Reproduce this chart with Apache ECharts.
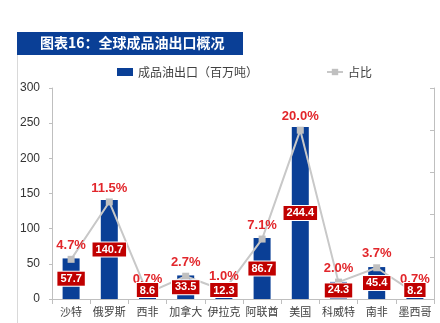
<!DOCTYPE html>
<html><head><meta charset="utf-8">
<script src="https://cdn.jsdelivr.net/npm/echarts@6/dist/echarts.min.js"></script>
<style>html,body{margin:0;padding:0;background:#fff}#c{width:440px;height:323px}</style>
</head><body><div id="c"></div>
<script>
const categories = ['沙特','俄罗斯','西非','加拿大','伊拉克','阿联酋','美国','科威特','南非','墨西哥'];
const exportValues = [57.7, 140.7, 8.6, 33.5, 12.3, 86.7, 244.4, 24.3, 45.4, 8.2];
const sharePct = [4.7, 11.5, 0.7, 2.7, 1.0, 7.1, 20.0, 2.0, 3.7, 0.7];
const leftTicks = [0, 50, 100, 150, 200, 250, 300];
const titleText = '图表16：全球成品油出口概况';
const barName = '成品油出口（百万吨）';
const lineName = '占比';

const chart = echarts.init(document.getElementById('c'), null, {renderer:'canvas'});
const cjk = '"Noto Sans CJK SC", sans-serif';
const num = '"Liberation Sans", Arial, sans-serif';

const labelBarData = exportValues.map(v => ({
  value: v,
  label: v < 15 ? {position: 'insideBottom', distance: 2} : {}
}));

chart.setOption({
  animation: false,
  graphic: [
    {type:'rect', shape:{x:17, y:32, width:226, height:23}, style:{fill:'#0a3f96'}},
    {type:'text', left:40, top:36, style:{text:titleText, fill:'#fff', font:'bold 14px ' + cjk}},
    {type:'line', shape:{x1:17.5, y1:55, x2:17.5, y2:323}, style:{stroke:'#d9d9d9', lineWidth:1}}
  ],
  legend: {
    left: 117, top: 66, padding: 0,
    itemWidth: 16, itemHeight: 8, itemGap: 68,
    textStyle: {fontSize: 12, color: '#404040', fontFamily: cjk},
    data: [{name: barName, icon: 'rect'}, {name: lineName}]
  },
  grid: {left: 52, right: 6, top: 88, bottom: 24, containLabel: false},
  xAxis: {
    type: 'category', data: categories,
    axisLine: {lineStyle: {color: '#bfbfbf'}},
    axisTick: {show: true, length: 5, lineStyle: {color: '#bfbfbf'}},
    axisLabel: {interval: 0, fontSize: 11, color: '#404040', fontFamily: cjk, margin: 7}
  },
  yAxis: [
    {
      type: 'value', min: leftTicks[0], max: leftTicks[leftTicks.length-1], interval: 50,
      axisLine: {show: true, lineStyle: {color: '#bfbfbf'}},
      axisTick: {show: true, length: 3, lineStyle: {color: '#bfbfbf'}},
      splitLine: {show: false},
      axisLabel: {fontSize: 12, color: '#333', fontFamily: num, margin: 12}
    },
    {
      type: 'value', min: 0, max: 25, interval: 5, position: 'right',
      axisLine: {show: true, lineStyle: {color: '#bfbfbf'}},
      axisTick: {show: true, inside: true, length: 4, lineStyle: {color: '#bfbfbf'}},
      splitLine: {show: false},
      axisLabel: {show: false}
    }
  ],
  series: [
    {
      name: barName, type: 'bar', data: exportValues, barWidth: 17,
      itemStyle: {color: '#0a3f96'},
      z: 2
    },
    {
      name: lineName, type: 'line', yAxisIndex: 1, data: sharePct,
      symbol: 'rect', symbolSize: 7,
      lineStyle: {color: '#c8c8c8', width: 2},
      itemStyle: {color: '#c0c0c0'},
      label: {
        show: true, position: 'top', distance: 4,
        formatter: p => p.value.toFixed(1) + '%',
        color: '#e2262b', fontWeight: 'bold', fontSize: 13, fontFamily: num
      },
      z: 3
    },
    {
      name: 'barLabels', type: 'bar', data: labelBarData, barWidth: 17, barGap: '-100%',
      itemStyle: {color: 'rgba(0,0,0,0)'},
      silent: true,
      label: {
        show: true, position: 'inside', color: '#fff', fontWeight: 'bold',
        fontSize: 11, fontFamily: num, backgroundColor: '#c00000',
        borderColor: '#fff', borderWidth: 1, padding: [2, 3, 1, 3]
      },
      z: 4
    }
  ]
});
</script></body></html>
